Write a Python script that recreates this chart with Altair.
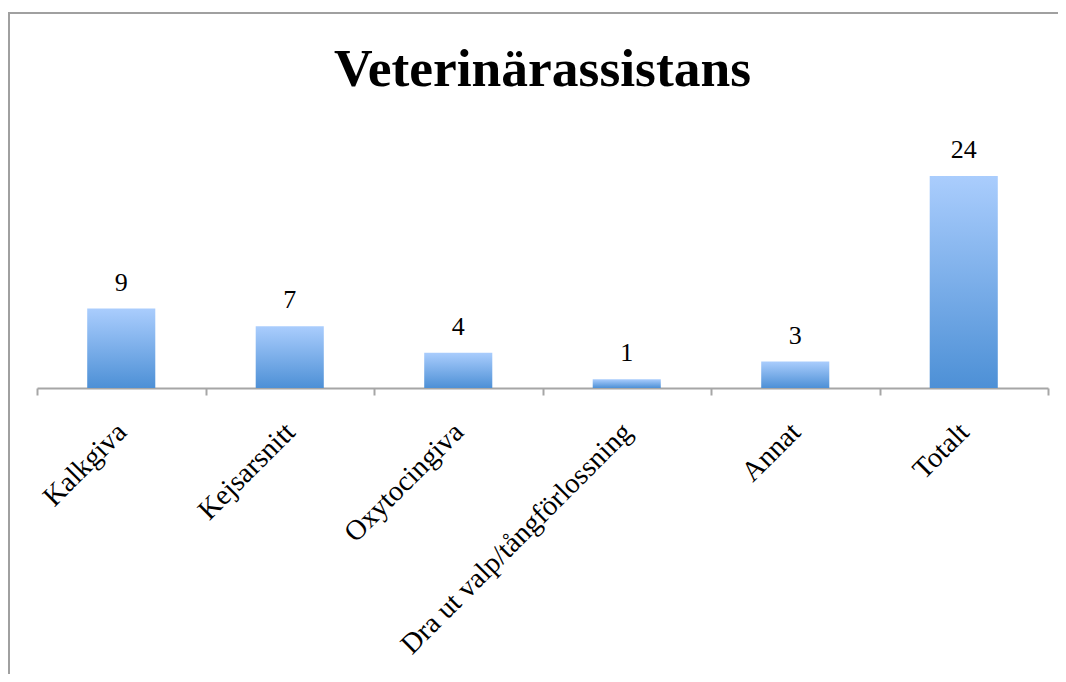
import altair as alt
import pandas as pd

categories = ["Kalkgiva", "Kejsarsnitt", "Oxytocingiva", "Dra ut valp/tångförlossning", "Annat", "Totalt"]
values = [9, 7, 4, 1, 3, 24]
title_text = "Veterinärassistans"

df = pd.DataFrame({"kategori": categories, "antal": values})

SERIF = "Liberation Serif"
GRAY = "#a6a6a6"

x_enc = alt.X(
    "kategori:N",
    sort=categories,
    scale=alt.Scale(paddingInner=0, paddingOuter=0),
    axis=alt.Axis(
        title=None,
        labelAngle=-45,
        labelAlign="right",
        labelBaseline="middle",
        labelFont=SERIF,
        labelFontSize=28.5,
        labelColor="#000000",
        labelPadding=32,
        labelLimit=0,
        domainColor=GRAY,
        domainWidth=2,
        tickColor=GRAY,
        tickWidth=2,
        tickSize=7,
        tickBand="extent",
    ),
)
y_enc = alt.Y("antal:Q", scale=alt.Scale(domain=[0, 24], nice=False, zero=True), axis=None)

base = alt.Chart(df)

bars = base.mark_bar(
    width=alt.RelativeBandSize(0.404),
    color=alt.Gradient(
        gradient="linear",
        stops=[
            alt.GradientStop(offset=0, color="#aacdfd"),
            alt.GradientStop(offset=1, color="#4d90d6"),
        ],
        x1=1, x2=1, y1=0, y2=1,
    ),
).encode(x=x_enc, y=y_enc)

labels = base.mark_text(
    font=SERIF, fontSize=26, color="#000000", baseline="alphabetic", dy=-18
).encode(x=x_enc, y=y_enc, text="antal:Q")

frame = alt.Chart(pd.DataFrame({"f": [0]})).mark_rect(
    filled=False, stroke="#a0a0a0", strokeWidth=2
).encode(
    x=alt.value(-28), x2=alt.value(1100), y=alt.value(-163), y2=alt.value(720)
)

chart = alt.layer(frame, bars, labels).properties(
    width=1011,
    height=212,
    title=alt.TitleParams(
        text=title_text,
        font=SERIF,
        fontSize=53.5,
        fontWeight="bold",
        color="#000000",
        anchor="middle",
        baseline="alphabetic",
        offset=-127,
    ),
    autosize=alt.AutoSizeParams(type="none"),
    padding={"left": 29, "top": 168, "right": 10, "bottom": 286},
).configure(background="#ffffff", view=alt.ViewConfig(strokeWidth=0, stroke="transparent"))

chart.save("out.html", embed_options={"renderer": "svg", "actions": False})
